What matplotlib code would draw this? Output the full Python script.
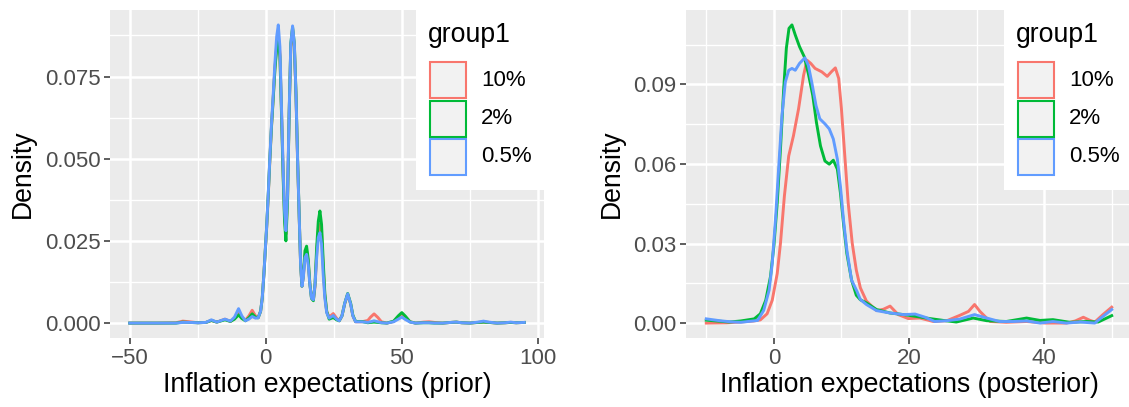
import matplotlib
matplotlib.use("Agg")
import matplotlib.pyplot as plt
from matplotlib.patches import Rectangle

W, H = 1129, 407
plt.rcParams['font.family'] = ['Liberation Sans', 'DejaVu Sans']

# ---------------- data ----------------
groups = ["10%", "2%", "0.5%"]
colors = ["#F8766D", "#00BA38", "#619CFF"]

# Prior panel: density on a shared grid
prior_x = [-50, -40, -33, -30.5, -28, -25, -22, -20, -18, -15,
           -13, -11.5, -10, -8.8, -7.5, -6.2, -5, -3.8, -2.8, -1.9,
           -1.3, -0.7, -0.2, 0.3, 0.9, 1.5, 2.1, 2.75, 3.35, 4.0,
           4.6, 5.2, 5.8, 6.4, 6.9, 7.4, 8.0, 8.6, 9.2, 9.85,
           10.5, 11.1, 11.7, 12.3, 12.8, 13.3, 13.8, 14.4, 15.0, 15.6,
           16.2, 16.8, 17.5, 18.1, 18.7, 19.3, 19.9, 20.5, 21.1, 21.7,
           22.4, 23.3, 24.8, 26, 27, 28, 29, 30.1, 31.2, 32,
           33, 35.3, 37.5, 38.5, 39.8, 41.2, 42.5, 44.5, 47, 48.7,
           50, 51.3, 53, 55, 58, 60, 62, 65, 68, 70,
           72, 75, 78, 80, 82, 85, 88, 90, 92, 95]
prior_10 = [0, 0, 0.0001, 0.0006, 0.0004, 0.0001, 0.0002, 0.0008, 0.0003, 0.0012,
            0.0005, 0.0014, 0.0032, 0.0018, 0.0008, 0.0022, 0.0039, 0.0022, 0.0017, 0.0036,
            0.0076, 0.0146, 0.0216, 0.0285, 0.0385, 0.0495, 0.0596, 0.0688, 0.0775, 0.0845,
            0.0875, 0.0820, 0.0640, 0.0450, 0.0330, 0.0270, 0.0380, 0.0640, 0.0840, 0.0895,
            0.0840, 0.0690, 0.0490, 0.0318, 0.0178, 0.0112, 0.0140, 0.0205, 0.0220, 0.0185,
            0.0120, 0.0076, 0.0070, 0.0110, 0.0210, 0.0280, 0.0300, 0.0270, 0.0170, 0.0085,
            0.0035, 0.0018, 0.0029, 0.0015, 0.0007, 0.0022, 0.0058, 0.0088, 0.0057, 0.0022,
            0.0004, 0.0004, 0.0008, 0.0018, 0.0028, 0.0017, 0.0004, 0, 0.0005, 0.0019,
            0.0029, 0.0019, 0.0004, 0, 0.0003, 0.0004, 0.0002, 0, 0.0002, 0.0003,
            0.0001, 0, 0.0002, 0.0003, 0.0002, 0, 0.0001, 0.0002, 0.0001, 0.0002]
prior_2 = [0, 0, 0, 0.0003, 0.0002, 0.0001, 0.0002, 0.0008, 0.0003, 0.0010,
           0.0005, 0.0012, 0.0025, 0.0014, 0.0007, 0.0016, 0.0028, 0.0018, 0.0016, 0.0036,
           0.0076, 0.0148, 0.0219, 0.0290, 0.0390, 0.0500, 0.0598, 0.0685, 0.0770, 0.0835,
           0.0861, 0.0810, 0.0630, 0.0440, 0.0310, 0.0250, 0.0370, 0.0640, 0.0850, 0.0900,
           0.0850, 0.0700, 0.0500, 0.0320, 0.0180, 0.0112, 0.0145, 0.0220, 0.0234, 0.0195,
           0.0120, 0.0075, 0.0068, 0.0120, 0.0230, 0.0310, 0.0341, 0.0300, 0.0190, 0.0090,
           0.0035, 0.0012, 0.0017, 0.0010, 0.0007, 0.0022, 0.0060, 0.0090, 0.0060, 0.0024,
           0.0005, 0.0005, 0.0001, 0.0002, 0.0003, 0.0002, 0.0001, 0, 0.0006, 0.0022,
           0.0032, 0.0021, 0.0004, 0, 0.0001, 0.0001, 0, 0, 0.0002, 0.0003,
           0.0001, 0, 0.0002, 0.0003, 0.0002, 0, 0.0001, 0.0002, 0.0001, 0.0002]
prior_05 = [0, 0, 0, 0.0002, 0.0002, 0.0001, 0.0002, 0.0010, 0.0003, 0.0012,
            0.0006, 0.0018, 0.0044, 0.0022, 0.0007, 0.0012, 0.0020, 0.0015, 0.0016, 0.0036,
            0.0076, 0.0148, 0.0219, 0.0290, 0.0392, 0.0504, 0.0606, 0.0698, 0.0790, 0.0871,
            0.0907, 0.0840, 0.0647, 0.0464, 0.0341, 0.0281, 0.0392, 0.0647, 0.0850, 0.0904,
            0.0850, 0.0698, 0.0494, 0.0321, 0.0178, 0.0112, 0.0138, 0.0199, 0.0209, 0.0178,
            0.0117, 0.0076, 0.0071, 0.0117, 0.0199, 0.0260, 0.0275, 0.0240, 0.0148, 0.0076,
            0.0031, 0.0015, 0.0023, 0.0012, 0.0007, 0.0022, 0.0060, 0.0089, 0.0058, 0.0022,
            0.0004, 0.0004, 0.0002, 0.0004, 0.0007, 0.0004, 0.0001, 0, 0.0004, 0.0012,
            0.0018, 0.0011, 0.0003, 0, 0.0001, 0.0001, 0, 0, 0.0002, 0.0003,
            0.0001, 0, 0.0003, 0.0006, 0.0003, 0, 0.0001, 0.0003, 0.0001, 0.0002]

# Posterior panel: density, one grid per series
post_x_10 = [-10, -7, -5, -3, -2, -1, -0.24, 0.5, 0.98, 1.56,
             2.2, 2.9, 3.66, 4.4, 4.9, 5.46, 6.1, 7.1, 7.9, 8.5,
             9.1, 9.6, 10.0, 10.5, 11.0, 11.6, 12.2, 12.8, 13.7, 15.2,
             16.2, 17.2, 18.4, 19.9, 21.6, 23.6, 25.6, 27.5, 28.8, 29.7,
             30.5, 32, 34.4, 37.4, 40.3, 43.3, 44.6, 45.8, 46.8, 47.5,
             48.7, 50]
post_10 = [0, 0.0001, 0.0004, 0.0008, 0.0012, 0.0035, 0.0086, 0.0187, 0.0301, 0.0479,
           0.0630, 0.0706, 0.0808, 0.0934, 0.0991, 0.0979, 0.0960, 0.0947, 0.0930, 0.0947,
           0.0962, 0.0922, 0.0808, 0.0630, 0.0453, 0.0301, 0.0200, 0.0133, 0.0083, 0.0047,
           0.0052, 0.0064, 0.0032, 0.0017, 0.0019, 0.0006, 0.0009, 0.0029, 0.0044, 0.0070,
           0.0044, 0.0006, 0.0003, 0.0006, 0, 0, 0.0008, 0.0022, 0.0010, 0.0004,
           0.0032, 0.0060]
post_x_2 = [-10, -8, -6.6, -4.9, -2.9, -2.0, -1.2, -0.5, 0, 0.5,
            0.98, 1.46, 1.85, 2.24, 2.68, 3.17, 3.8, 4.5, 5.1, 5.76,
            6.3, 6.9, 7.56, 8.2, 8.8, 9.4, 9.85, 10.3, 10.8, 11.5,
            12.2, 12.8, 13.7, 15.2, 17.2, 19.2, 21.1, 23.1, 25.1, 27,
            29.5, 31.5, 34.4, 37.4, 39.4, 41.3, 43.8, 46.3, 48, 50]
post_2 = [0.0011, 0.0007, 0.0004, 0.0008, 0.0016, 0.0035, 0.0086, 0.0175, 0.0289, 0.0453,
          0.0656, 0.0884, 0.1036, 0.1111, 0.1124, 0.1086, 0.1042, 0.1004, 0.0941, 0.0858,
          0.0757, 0.0668, 0.0611, 0.0599, 0.0614, 0.0580, 0.0491, 0.0377, 0.0263, 0.0162,
          0.0105, 0.0088, 0.0076, 0.0051, 0.0038, 0.0032, 0.0025, 0.0017, 0.0010, 0.0004,
          0.0019, 0.0009, 0.0006, 0.0019, 0.0010, 0.0013, 0.0003, 0.0006, 0.0004, 0.0028]
post_x_05 = [-10, -8, -6.5, -4.9, -2.4, -1.5, -0.7, -0.24, 0.24, 0.73,
             1.2, 1.7, 2.2, 2.68, 3.17, 3.8, 4.6, 5.1, 5.6, 6.24,
             6.8, 7.56, 8.2, 8.8, 9.4, 9.85, 10.3, 10.8, 11.5, 12.3,
             12.8, 13.7, 15.2, 17.2, 19.2, 20.9, 22.4, 23.8, 25.6, 27.5,
             29.7, 31.5, 33.4, 35.4, 37.4, 39.4, 41.3, 43.3, 45.3, 47.5,
             48.7, 50]
post_05 = [0.0016, 0.0009, 0.0005, 0.0003, 0.0010, 0.0048, 0.0124, 0.0225, 0.0390, 0.0592,
           0.0782, 0.0909, 0.0953, 0.0960, 0.0953, 0.0979, 0.1000, 0.0972, 0.0909, 0.0820,
           0.0770, 0.0751, 0.0732, 0.0694, 0.0618, 0.0517, 0.0390, 0.0276, 0.0162, 0.0120,
           0.0089, 0.0070, 0.0047, 0.0038, 0.0032, 0.0034, 0.0022, 0.0006, 0.0009, 0.0015,
           0.0032, 0.0019, 0.0006, 0.0006, 0.0008, 0, 0.0006, 0, 0.0004, 0,
           0.0025, 0.0051]

prior_xticks = [-50, 0, 50, 100]
prior_xminor = [-25, 25, 75]
prior_yticks = [0.0, 0.025, 0.05, 0.075]
prior_yminor = [0.0125, 0.0375, 0.0625, 0.0875]
post_xticks = [0, 20, 40]
post_xminor = [-10, 10, 30, 50]
post_yticks = [0.0, 0.03, 0.06, 0.09]
post_yminor = [0.015, 0.045, 0.075, 0.105]

# ---------------- figure ----------------
fig = plt.figure(figsize=(W / 100, H / 100), dpi=100)
ax1 = fig.add_axes([110 / W, 1 - 338 / H, 434 / W, 328 / H])
ax2 = fig.add_axes([686 / W, 1 - 338 / H, 446 / W, 328 / H])

TITLE_FS = 19.2
TICK_FS = 16
LINE_W = 2.1


def style(ax, xs, ys, xmaj, xmin, ymaj, ymin, ydec, xlabel):
    ax.set_facecolor('#EBEBEB')
    for s in ax.spines.values():
        s.set_visible(False)
    x_lo = min(min(x) for x in xs)
    x_hi = max(max(x) for x in xs)
    y_hi = max(max(y) for y in ys)
    dx = 0.05 * (x_hi - x_lo)
    ax.set_xlim(x_lo - dx, x_hi + dx)
    ax.set_ylim(-0.05 * y_hi, 1.05 * y_hi)
    ax.set_xticks(xmaj)
    ax.set_xticks(xmin, minor=True)
    ax.set_yticks(ymaj)
    ax.set_yticks(ymin, minor=True)
    ax.set_yticklabels([f"{v:.{ydec}f}" for v in ymaj])
    ax.grid(which='major', color='white', lw=1.8)
    ax.grid(which='minor', color='white', lw=0.95)
    ax.set_axisbelow(True)
    ax.tick_params(which='major', length=4, width=1.1, color='#333333',
                   labelsize=TICK_FS, labelcolor='#4D4D4D', pad=3)
    ax.tick_params(which='minor', length=0)
    ax.set_xlabel(xlabel, fontsize=TITLE_FS, labelpad=2)
    ax.set_ylabel("Density", fontsize=TITLE_FS, labelpad=6)


prior_ys = [prior_10, prior_2, prior_05]
for y, c in zip(prior_ys, colors):
    ax1.plot(prior_x, y, color=c, lw=LINE_W, solid_joinstyle='round')
style(ax1, [prior_x], prior_ys, prior_xticks, prior_xminor, prior_yticks,
      prior_yminor, 3, "Inflation expectations (prior)")

post_xs = [post_x_10, post_x_2, post_x_05]
post_ys = [post_10, post_2, post_05]
for x, y, c in zip(post_xs, post_ys, colors):
    ax2.plot(x, y, color=c, lw=LINE_W, solid_joinstyle='round')
style(ax2, post_xs, post_ys, post_xticks, post_xminor, post_yticks,
      post_yminor, 2, "Inflation expectations (posterior)")


def draw_legend(x0):
    fig.add_artist(Rectangle((x0 / W, 1 - 190 / H), 128 / W, 190 / H,
                             transform=fig.transFigure, facecolor='white',
                             edgecolor='none', zorder=5))
    fig.text((x0 + 12) / W, 1 - 41.5 / H, "group1", fontsize=TITLE_FS,
             va='baseline', ha='left', zorder=6)
    for i, (g, c) in enumerate(zip(groups, colors)):
        top = 62 + i * 38.5
        fig.add_artist(Rectangle(((x0 + 14) / W, 1 - (top + 36) / H), 35.5 / W, 36 / H,
                                 transform=fig.transFigure, facecolor='#F2F2F2',
                                 edgecolor=c, lw=1.5, zorder=6))
        fig.text((x0 + 65) / W, 1 - (top + 18) / H, g, fontsize=TICK_FS,
                 va='center', ha='left', zorder=7)


draw_legend(416)
draw_legend(1004)

fig.savefig("out.png", dpi=100)
